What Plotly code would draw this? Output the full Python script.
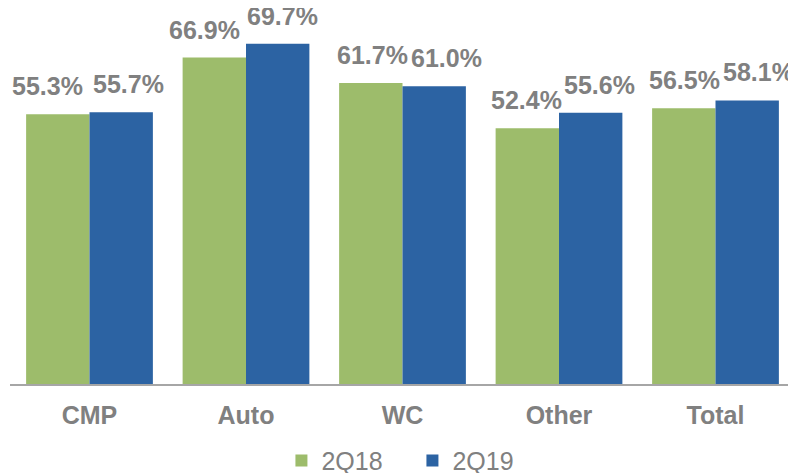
import plotly.graph_objects as go

categories = ["CMP", "Auto", "WC", "Other", "Total"]
series_names = ["2Q18", "2Q19"]
values_2q18 = [55.3, 66.9, 61.7, 52.4, 56.5]
values_2q19 = [55.7, 69.7, 61.0, 55.6, 58.1]

# style: horizontal nudges (px) applied to value labels, as in the source slide
label_nudge_2q18 = [-10, -10, 2, -1, 1]
label_nudge_2q19 = [7, 4, 12, 8, 11]

colors = {"2Q18": "#9dbc6b", "2Q19": "#2c63a3"}
font_family = "Liberation Sans, Arial, sans-serif"
gray = "#808080"

fig = go.Figure()
for name, vals in zip(series_names, [values_2q18, values_2q19]):
    fig.add_trace(go.Bar(
        x=categories, y=vals, name=name,
        marker=dict(color=colors[name], line=dict(width=0)),
        hoverinfo="x+y",
    ))

BAR_HALF = 32
for i, cat in enumerate(categories):
    for vals, base, nudge in [(values_2q18, -BAR_HALF, label_nudge_2q18),
                              (values_2q19, BAR_HALF, label_nudge_2q19)]:
        fig.add_annotation(
            x=cat, y=vals[i], xref="x", yref="y",
            text=f"<b>{vals[i]:.1f}%</b>", showarrow=False,
            xshift=base + nudge[i], yanchor="bottom", yshift=12,
            font=dict(family=font_family, size=25, color=gray),
        )

fig.update_layout(
    width=788, height=465,
    margin=dict(l=2, r=0, t=10, b=89, autoexpand=False),
    paper_bgcolor="white", plot_bgcolor="white",
    barmode="group", bargap=0.19, bargroupgap=0,
    showlegend=True,
    legend=dict(orientation="h", x=0.512, xanchor="center", y=-0.21, yanchor="middle",
                font=dict(family=font_family, size=25, color=gray),
                entrywidth=86, traceorder="normal"),
    font=dict(family=font_family, color=gray),
)
fig.update_xaxes(
    showline=True, linecolor="#a6a6a6", linewidth=2,
    ticks="", tickfont=dict(family=font_family, size=25, color=gray),
    tickprefix="<b>", ticksuffix="</b>", ticklabelstandoff=8,
)
fig.update_yaxes(range=[0, 75], visible=False, showgrid=False)

fig.write_html("out.html")
